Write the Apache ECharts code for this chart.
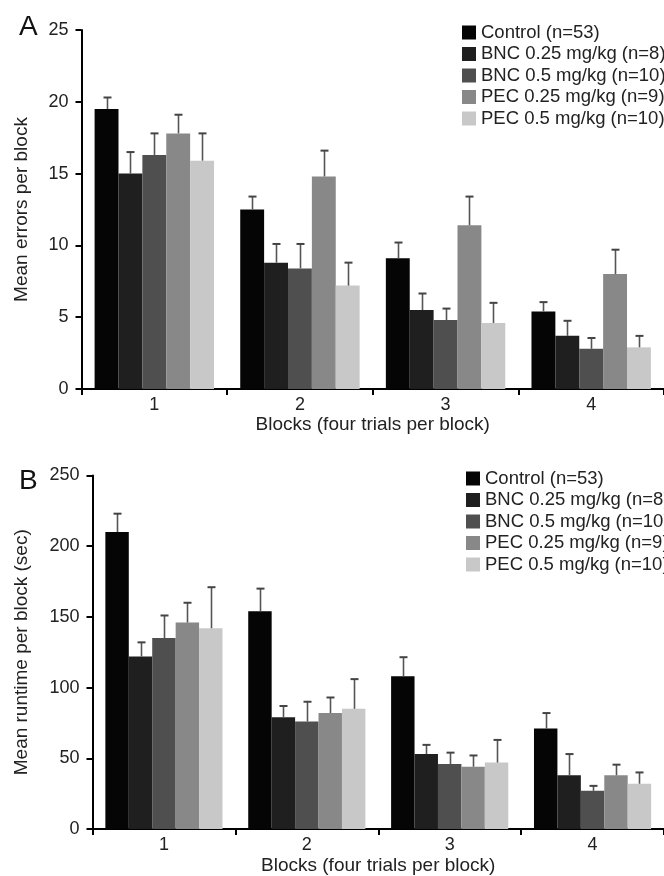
<!DOCTYPE html>
<html>
<head>
<meta charset="utf-8">
<script src="https://cdn.jsdelivr.net/npm/echarts@6/dist/echarts.min.js"></script>
<style>
html,body{margin:0;padding:0;background:#fff;}
#chart{width:664px;height:876px;}
</style>
</head>
<body>
<div id="chart"></div>
<script>
// ---- Data ----
var blocks = ['1', '2', '3', '4'];
var groupNames = ['Control (n=53)', 'BNC 0.25 mg/kg (n=8)', 'BNC 0.5 mg/kg (n=10)', 'PEC 0.25 mg/kg (n=9)', 'PEC 0.5 mg/kg (n=10)'];
var groupColors = ['#050505', '#1f1f1f', '#4f4f4f', '#888888', '#c8c8c8'];

// Panel A: mean errors per block
var errControl = [19.5, 12.5, 9.1, 5.4];
var errBnc025 = [15.0, 8.8, 5.5, 3.7];
var errBnc05 = [16.3, 8.4, 4.8, 2.8];
var errPec025 = [17.8, 14.8, 11.4, 8.0];
var errPec05 = [15.9, 7.2, 4.6, 2.9];
var errSemControl = [0.8, 0.9, 1.1, 0.65];
var errSemBnc025 = [1.5, 1.3, 1.15, 1.05];
var errSemBnc05 = [1.5, 1.7, 0.8, 0.75];
var errSemPec025 = [1.3, 1.8, 2.0, 1.7];
var errSemPec05 = [1.9, 1.6, 1.4, 0.8];

// Panel B: mean runtime per block (sec)
var runControl = [210, 154, 108, 71];
var runBnc025 = [122, 79, 53, 38];
var runBnc05 = [135, 76, 46, 27];
var runPec025 = [146, 82, 44, 38];
var runPec05 = [142, 85, 47, 32];
var runSemControl = [13, 16, 13.5, 11];
var runSemBnc025 = [10, 8, 6.5, 15];
var runSemBnc05 = [16, 14, 8, 3.5];
var runSemPec025 = [14, 11, 8, 7.5];
var runSemPec05 = [29, 21, 16, 8];

var errMeans = [errControl, errBnc025, errBnc05, errPec025, errPec05];
var errSems = [errSemControl, errSemBnc025, errSemBnc05, errSemPec025, errSemPec05];
var runMeans = [runControl, runBnc025, runBnc05, runPec025, runPec05];
var runSems = [runSemControl, runSemBnc025, runSemBnc05, runSemPec025, runSemPec05];

var FONT = '"Liberation Sans", Arial, Helvetica, sans-serif';
var TXT = '#222';
var CATGAP = 0.18;

function renderErr(params, api) {
  var cat = api.value(0), g = api.value(1), v = api.value(2), e = api.value(3);
  var band = api.size([1, 0])[0];
  var groupW = band * (1 - CATGAP);
  var bw = groupW / 5;
  var base = api.coord([cat, v]);
  var topP = api.coord([cat, v + e]);
  var x = Math.round(base[0] - groupW / 2 + bw * (g + 0.5)) + 0.5;
  return {
    type: 'group',
    children: [
      {type: 'line', shape: {x1: x, y1: base[1], x2: x, y2: topP[1]}, style: {stroke: '#555', lineWidth: 1.6}},
      {type: 'line', shape: {x1: x - 4, y1: topP[1], x2: x + 4, y2: topP[1]}, style: {stroke: '#444', lineWidth: 2}}
    ]
  };
}

function errData(means, sems) {
  var out = [];
  for (var g = 0; g < means.length; g++) {
    for (var c = 0; c < blocks.length; c++) {
      out.push([c, g, means[g][c], sems[g][c]]);
    }
  }
  return out;
}

var series = [];
for (var i = 0; i < 5; i++) {
  series.push({
    name: groupNames[i], type: 'bar', xAxisIndex: 0, yAxisIndex: 0,
    data: errMeans[i], barGap: '0%', barCategoryGap: (CATGAP * 100) + '%',
    itemStyle: {color: groupColors[i]}, emphasis: {disabled: true}, silent: true
  });
}
for (var j = 0; j < 5; j++) {
  series.push({
    name: groupNames[j], type: 'bar', xAxisIndex: 1, yAxisIndex: 1,
    data: runMeans[j], barGap: '0%', barCategoryGap: (CATGAP * 100) + '%',
    itemStyle: {color: groupColors[j]}, emphasis: {disabled: true}, silent: true
  });
}
series.push({
  type: 'custom', xAxisIndex: 0, yAxisIndex: 0, z: 5, silent: true,
  renderItem: renderErr, encode: {x: 0, y: 2}, data: errData(errMeans, errSems)
});
series.push({
  type: 'custom', xAxisIndex: 1, yAxisIndex: 1, z: 5, silent: true,
  renderItem: renderErr, encode: {x: 0, y: 2}, data: errData(runMeans, runSems)
});

function xAxisCfg(gridIndex, gap) {
  return {
    type: 'category', gridIndex: gridIndex, data: blocks,
    name: 'Blocks (four trials per block)', nameLocation: 'middle', nameGap: gap,
    nameTextStyle: {fontSize: 19, color: TXT, fontFamily: FONT},
    axisLine: {lineStyle: {color: '#000', width: 2}},
    axisTick: {show: true, length: 6, lineStyle: {color: '#000', width: 2}},
    axisLabel: {fontSize: 18, color: TXT, fontFamily: FONT, margin: 7}
  };
}
function yAxisCfg(gridIndex, name, max, interval, gap) {
  return {
    type: 'value', gridIndex: gridIndex, min: 0, max: max, interval: interval,
    name: name, nameLocation: 'middle', nameGap: gap,
    nameTextStyle: {fontSize: 19, color: TXT, fontFamily: FONT},
    axisLine: {show: true, lineStyle: {color: '#000', width: 2}},
    axisTick: {show: true, length: 6, lineStyle: {color: '#000', width: 2}},
    axisLabel: {fontSize: 18, color: TXT, fontFamily: FONT, margin: 13},
    splitLine: {show: false}
  };
}
function legendCfg(left, top) {
  return {
    orient: 'vertical', left: left, top: top, data: groupNames,
    icon: 'rect', itemWidth: 14, itemHeight: 14, itemGap: 2.5,
    selectedMode: false,
    textStyle: {fontSize: 18.5, color: TXT, fontFamily: FONT}
  };
}

var chart = echarts.init(document.getElementById('chart'), null, {renderer: 'canvas'});
chart.setOption({
  backgroundColor: '#fff',
  animation: false,
  title: [
    {text: 'A', left: 14, top: 8, textStyle: {fontSize: 28, fontWeight: 'normal', color: '#111', fontFamily: FONT}},
    {text: 'B', left: 14, top: 462, textStyle: {fontSize: 28, fontWeight: 'normal', color: '#111', fontFamily: FONT}}
  ],
  legend: [legendCfg(457, 18), legendCfg(461, 464)],
  grid: [
    {left: 81.5, top: 30, width: 587, height: 359},
    {left: 92.5, top: 475.5, width: 574, height: 353.5}
  ],
  xAxis: [xAxisCfg(0, 25), xAxisCfg(1, 27)],
  yAxis: [
    yAxisCfg(0, 'Mean errors per block', 25, 5, 50),
    yAxisCfg(1, 'Mean runtime per block (sec)', 250, 50, 61)
  ],
  series: series
});
</script>
</body>
</html>
